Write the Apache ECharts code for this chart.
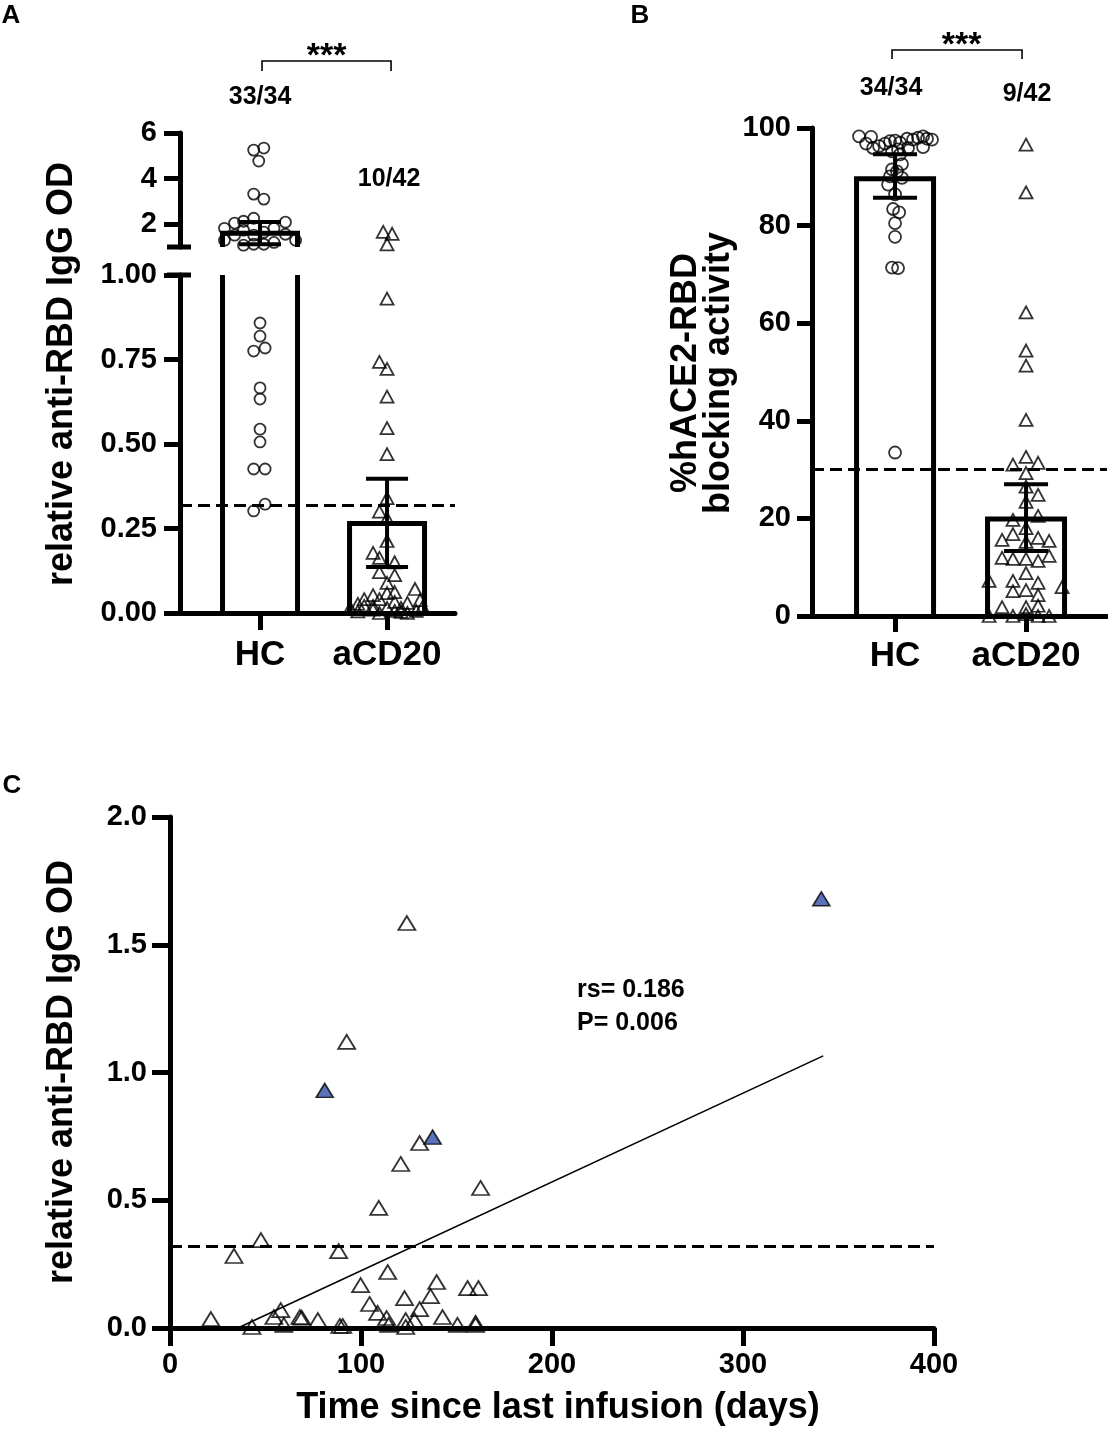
<!DOCTYPE html>
<html>
<head>
<meta charset="utf-8">
<script src="https://cdn.jsdelivr.net/npm/echarts@6/dist/echarts.min.js"></script>
<style>
  html, body { margin: 0; padding: 0; background: #fff; }
  #main { width: 1108px; height: 1432px; }
</style>
</head>
<body>
<div id="main"></div>
<script>
"use strict";

// ---- values ----
const groups = ['HC', 'aCD20'];

// panel A: relative anti-RBD IgG OD (axis broken at 1)
const hcOdA = [5.25, 5.34, 4.77, 3.32, 3.10, 2.05, 2.13, 2.26, 2.09, 1.82, 1.74, 1.82, 1.65, 1.52, 1.52, 1.56,
    1.30, 1.08, 1.12, 1.12, 1.20, 1.30,
    0.858, 0.819, 0.784, 0.775, 0.666, 0.633, 0.544, 0.506, 0.426, 0.426, 0.322, 0.302];
// horizontal spread of each dot inside its column (in column units)
const hcOdSpread = [-0.05, 0.03, -0.01, -0.05, 0.03, -0.2, -0.13, -0.05, 0.2, -0.28, -0.13, 0.11, 0.03, -0.05, -0.2, 0.2,
    -0.28, -0.13, -0.05, 0.03, 0.11, 0.28,
    0, 0, 0.04, -0.05, 0, 0, 0, 0, -0.05, 0.04, 0.04, -0.05];
const cd20OdA = [1.66, 1.58, 1.12, 0.93, 0.743, 0.722, 0.64, 0.547, 0.47, 0.34, 0.30, 0.28, 0.213, 0.178,
    0.163, 0.15, 0.121, 0.112, 0.089, 0.071, 0.062, 0.059, 0.053, 0.041, 0.041, 0.038, 0.033, 0.030,
    0.027, 0.021, 0.021, 0.018, 0.015, 0.015, 0.015, 0.010, 0.006, 0.006, 0.005, 0.003, 0, 0];
const cd20OdSpread = [-0.03, 0.04, 0, 0, -0.06, 0, 0, 0, 0, 0, -0.06, 0, 0, -0.11,
    -0.06, 0.06, -0.06, 0.06, 0, 0.22, 0.06, 0, -0.11, -0.18, -0.06, 0.26, 0.06, 0.16,
    -0.23, -0.18, -0.11, 0.28, -0.29, 0, 0.11, -0.11, 0.06, 0.23, -0.23, 0.11, -0.06, 0.16];
const barA = [1.60, 0.265];
const errLowA = [1.12, 0.136];
const errHighA = [2.10, 0.397];
const cutoffA = 0.322;
const breakA = 1;
const upperTicksA = [2, 4, 6];
const ratioA = ['33/34', '10/42'];

// panel B: %hACE2-RBD blocking activity
const hcBlock = [98.3, 98.2, 96.8, 95.9, 96.3, 96.8, 97.3, 97.4, 97.0, 97.8, 97.6, 98.0, 98.3, 97.8, 97.6, 96.1,
    95.9, 95.6, 95.2, 92.6, 91.5, 91.1, 90.1, 89.8, 88.4, 86.4, 83.4, 82.7, 80.5, 77.7, 71.4, 71.3, 33.5, 94.6];
const hcBlockSpread = [-0.275, -0.183, -0.221, -0.168, -0.122, -0.076, -0.038, 0, 0.038, 0.092, 0.137, 0.176, 0.214, 0.244, 0.282, 0.214,
    0.099, 0.023, -0.023, 0.053, -0.023, 0.015, -0.038, 0.053, -0.053, 0, -0.015, 0.031, 0, 0, -0.023, 0.023, 0, 0.038];
const cd20Block = [96.6, 86.8, 62.2, 54.4, 51.3, 40.2, 32.6, 31.0, 31.4, 29.3, 26.5, 24.8, 23.4, 19.7, 20.5, 18.0,
    16.8, 15.6, 15.2, 16.0, 15.4, 11.9, 11.7, 11.7, 11.3, 12.3, 8.8, 7.2, 7.2, 6.8, 5.9, 5.1, 5.3, 4.3,
    1.8, 1.8, 2.1, 0, 0, 0.4, 0, 0];
const cd20BlockSpread = [0, 0, 0, 0, 0, 0, 0, -0.1, 0.092, 0, 0, 0.092, 0, -0.1, 0.092, 0,
    -0.1, -0.183, 0, 0.092, 0.176, -0.183, -0.1, 0, 0.092, 0.176, 0, -0.282, -0.1, 0.092, 0.275, -0.1, 0, 0.092,
    -0.183, 0, 0.092, -0.282, -0.1, 0, 0.092, 0.176];
const barB = [89.6, 19.9];
const errLowB = [85.7, 13.3];
const errHighB = [94.6, 27.0];
const cutoffB = 30;
const ratioB = ['34/34', '9/42'];

// panel C: OD vs time since last infusion
const daysOpen = [124, 92.5, 130.7, 120.8, 162.6, 109.3, 47.6, 33.5, 88.3, 114, 99.8, 139.6, 155.8, 161.5, 122.8, 136.4,
    104.5, 130.7, 108.7, 58, 54.4, 21.4, 68, 69, 77.4, 142.7, 113.4, 123.4, 42.9, 59.6, 88.9, 90.4,
    114.5, 123.4, 128, 150.5, 160, 160];
const odOpen = [1.585, 1.12, 0.724, 0.642, 0.548, 0.47, 0.344, 0.282, 0.301, 0.219, 0.168, 0.18, 0.156, 0.156, 0.117, 0.125,
    0.094, 0.074, 0.059, 0.07, 0.043, 0.035, 0.043, 0.04, 0.031, 0.043, 0.039, 0.031, 0.004, 0.012, 0.008, 0.008,
    0.012, 0.004, 0.031, 0.012, 0.012, 0.02];
const daysFilled = [81, 137.5, 341];
const odFilled = [0.93, 0.747, 1.68];
const fitLine = [[35.5, 0], [342, 1.065]];
const cutoffC = 0.322;
const statsC = ['rs= 0.186', 'P= 0.006'];

// ---- helpers ----
const FONT = 'Liberation Sans';

const points = (values, spread, col) => values.map((v, i) => [col + spread[i], v]);

// bar outline without the edge that falls outside the grid (for the broken axis)
function openBar(half) {
    return function (params, api) {
        const cs = params.coordSys;
        const top = api.coord([api.value(0), api.value(1)]);
        const base = api.coord([api.value(0), 0]);
        const yMin = cs.y, yMax = cs.y + cs.height;
        if (top[1] >= yMax) return null;
        const yBase = Math.min(base[1], yMax);
        const l = top[0] - half, r = top[0] + half;
        const style = { stroke: '#000', lineWidth: 5, fill: null, lineJoin: 'miter' };
        if (top[1] >= yMin) {
            return { type: 'polyline', shape: { points: [[l, yBase], [l, top[1]], [r, top[1]], [r, yBase]] }, style: style };
        }
        return {
            type: 'group', children: [
                { type: 'line', shape: { x1: l, y1: yMin, x2: l, y2: yBase }, style: style },
                { type: 'line', shape: { x1: r, y1: yMin, x2: r, y2: yBase }, style: style }
            ]
        };
    };
}

function errorBar(half) {
    return function (params, api) {
        const cs = params.coordSys;
        const lo = api.coord([api.value(0), api.value(1)]);
        const hi = api.coord([api.value(0), api.value(2)]);
        const yMin = cs.y, yMax = cs.y + cs.height;
        const y1 = Math.min(lo[1], yMax), y2 = Math.max(hi[1], yMin);
        if (y1 <= y2) return null;
        const x = lo[0];
        const style = { stroke: '#000', lineWidth: 4 };
        const children = [{ type: 'line', shape: { x1: x, y1: y1, x2: x, y2: y2 }, style: style }];
        [lo[1], hi[1]].forEach(y => {
            if (y >= yMin && y <= yMax) {
                children.push({ type: 'line', shape: { x1: x - half, y1: y, x2: x + half, y2: y }, style: style });
            }
        });
        return { type: 'group', children: children };
    };
}

function cutoffLine(value) {
    return {
        silent: true,
        symbol: ['none', 'none'],
        label: { show: false },
        lineStyle: { color: '#000', width: 3.2, type: [12, 6] },
        data: [{ yAxis: value }]
    };
}

const axisText = { color: '#000', fontFamily: FONT, fontWeight: 'bold', fontSize: 29 };
const axisLine = { show: true, lineStyle: { color: '#000', width: 5 } };
const axisTick = len => ({ show: true, length: len, lineStyle: { color: '#000', width: 5 } });

const openMark = { color: 'rgba(0,0,0,0)', borderColor: '#000', borderWidth: 1.8 };

const chart = echarts.init(document.getElementById('main'), null, { renderer: 'canvas' });

const option = {
    backgroundColor: '#fff',
    animation: false,
    grid: [
        { left: 180, top: 133, width: 275, height: 114, outerBoundsMode: 'none' },
        { left: 180, top: 275, width: 275, height: 338, outerBoundsMode: 'none' },
        { left: 812, top: 128, width: 295, height: 488, outerBoundsMode: 'none' },
        { left: 170, top: 817, width: 764, height: 511, outerBoundsMode: 'none' }
    ],
    xAxis: [
        { gridIndex: 0, type: 'value', min: 0.37, max: 2.535, show: false },
        {
            gridIndex: 1, type: 'value', min: 0.37, max: 2.535,
            axisLine: axisLine, splitLine: { show: false },
            axisTick: Object.assign(axisTick(17), { customValues: [1, 2] }),
            axisLabel: Object.assign({}, axisText, {
                fontSize: 35, margin: 25, customValues: [1, 2],
                formatter: v => groups[Math.round(v) - 1]
            })
        },
        {
            gridIndex: 2, type: 'value', min: 0.366, max: 2.618,
            axisLine: axisLine, splitLine: { show: false },
            axisTick: Object.assign(axisTick(16), { customValues: [1, 2] }),
            axisLabel: Object.assign({}, axisText, {
                fontSize: 35, margin: 23, customValues: [1, 2],
                formatter: v => groups[Math.round(v) - 1]
            })
        },
        {
            gridIndex: 3, type: 'value', min: 0, max: 400, interval: 100,
            axisLine: axisLine, splitLine: { show: false },
            axisTick: axisTick(18),
            axisLabel: Object.assign({}, axisText, { margin: 22 })
        }
    ],
    yAxis: [
        {
            gridIndex: 0, type: 'value', min: breakA, max: 6,
            axisLine: axisLine, splitLine: { show: false },
            axisTick: Object.assign(axisTick(16), { customValues: upperTicksA }),
            axisLabel: Object.assign({}, axisText, { margin: 23, customValues: upperTicksA })
        },
        {
            gridIndex: 1, type: 'value', min: 0, max: breakA, interval: 0.25,
            axisLine: axisLine, splitLine: { show: false },
            axisTick: axisTick(16),
            axisLabel: Object.assign({}, axisText, { margin: 23, formatter: v => v.toFixed(2) })
        },
        {
            gridIndex: 2, type: 'value', min: 0, max: 100, interval: 20,
            axisLine: axisLine, splitLine: { show: false },
            axisTick: axisTick(15),
            axisLabel: Object.assign({}, axisText, { margin: 21 })
        },
        {
            gridIndex: 3, type: 'value', min: 0, max: 2, interval: 0.5,
            axisLine: axisLine, splitLine: { show: false },
            axisTick: axisTick(18),
            axisLabel: Object.assign({}, axisText, { margin: 23, formatter: v => v.toFixed(1) })
        }
    ],
    series: [
        // ---- panel A, upper segment ----
        {
            type: 'custom', xAxisIndex: 0, yAxisIndex: 0, silent: true,
            renderItem: openBar(37.5), data: barA.map((v, i) => [i + 1, v])
        },
        {
            type: 'custom', xAxisIndex: 0, yAxisIndex: 0, silent: true, z: 3,
            renderItem: errorBar(21), data: barA.map((v, i) => [i + 1, errLowA[i], errHighA[i]])
        },
        {
            type: 'scatter', xAxisIndex: 0, yAxisIndex: 0, silent: true, z: 4,
            symbol: 'circle', symbolSize: 11, itemStyle: openMark,
            data: points(hcOdA, hcOdSpread, 1).filter(p => p[1] > breakA)
        },
        {
            type: 'scatter', xAxisIndex: 0, yAxisIndex: 0, silent: true, z: 4,
            symbol: 'triangle', symbolSize: [13, 12], itemStyle: openMark,
            data: points(cd20OdA, cd20OdSpread, 2).filter(p => p[1] > breakA)
        },
        // ---- panel A, lower segment ----
        {
            type: 'custom', xAxisIndex: 1, yAxisIndex: 1, silent: true,
            renderItem: openBar(37.5), data: barA.map((v, i) => [i + 1, v])
        },
        {
            type: 'custom', xAxisIndex: 1, yAxisIndex: 1, silent: true, z: 3,
            renderItem: errorBar(21), data: barA.map((v, i) => [i + 1, errLowA[i], errHighA[i]])
        },
        {
            type: 'scatter', xAxisIndex: 1, yAxisIndex: 1, silent: true, z: 4,
            symbol: 'circle', symbolSize: 11, itemStyle: openMark,
            data: points(hcOdA, hcOdSpread, 1).filter(p => p[1] <= breakA)
        },
        {
            type: 'scatter', xAxisIndex: 1, yAxisIndex: 1, silent: true, z: 4,
            symbol: 'triangle', symbolSize: [13, 12], itemStyle: openMark,
            data: points(cd20OdA, cd20OdSpread, 2).filter(p => p[1] <= breakA),
            markLine: cutoffLine(cutoffA)
        },
        // ---- panel B ----
        {
            type: 'custom', xAxisIndex: 2, yAxisIndex: 2, silent: true,
            renderItem: openBar(38.5), data: barB.map((v, i) => [i + 1, v])
        },
        {
            type: 'custom', xAxisIndex: 2, yAxisIndex: 2, silent: true, z: 3,
            renderItem: errorBar(22), data: barB.map((v, i) => [i + 1, errLowB[i], errHighB[i]])
        },
        {
            type: 'scatter', xAxisIndex: 2, yAxisIndex: 2, silent: true, z: 4,
            symbol: 'circle', symbolSize: 12, itemStyle: openMark,
            data: points(hcBlock, hcBlockSpread, 1)
        },
        {
            type: 'scatter', xAxisIndex: 2, yAxisIndex: 2, silent: true, z: 4,
            symbol: 'triangle', symbolSize: [13, 12], itemStyle: openMark,
            data: points(cd20Block, cd20BlockSpread, 2),
            markLine: cutoffLine(cutoffB)
        },
        // ---- panel C ----
        {
            type: 'line', xAxisIndex: 3, yAxisIndex: 3, silent: true,
            symbol: 'none', lineStyle: { color: '#000', width: 1.6 },
            data: fitLine,
            markLine: cutoffLine(cutoffC)
        },
        {
            type: 'scatter', xAxisIndex: 3, yAxisIndex: 3, silent: true, z: 4,
            symbol: 'triangle', symbolSize: [17, 14],
            itemStyle: { color: 'rgba(255,255,255,0)', borderColor: '#000', borderWidth: 1.8 },
            data: daysOpen.map((d, i) => [d, odOpen[i]])
        },
        {
            type: 'scatter', xAxisIndex: 3, yAxisIndex: 3, silent: true, z: 5,
            symbol: 'triangle', symbolSize: [17, 14],
            itemStyle: { color: '#2f4fa6', borderColor: '#000', borderWidth: 1.6 },
            data: daysFilled.map((d, i) => [d, odFilled[i]])
        }
    ]
};

chart.setOption(option);

// ---- annotations: panel letters, titles, counts, brackets, axis break ----
const at = (grid, pt) => chart.convertToPixel({ gridIndex: grid }, pt);

const text = (str, x, y, size, align, extra) => Object.assign({
    type: 'text', x: x, y: y, silent: true,
    style: {
        text: str, fill: '#000', fontFamily: FONT, fontWeight: 'bold', fontSize: size,
        align: align || 'center', verticalAlign: 'middle'
    }
}, extra || {});

const vertical = { rotation: Math.PI / 2 };

const hcA = at(1, [1, 0])[0], cdA = at(1, [2, 0])[0];
const hcB = at(2, [1, 0])[0], cdB = at(2, [2, 0])[0];
const axA = at(1, [0.37, breakA]);
const axAu = at(0, [0.37, breakA]);

const bracket = (x1, x2, y, drop) => ({
    type: 'polyline', silent: true,
    shape: { points: [[x1, y + drop], [x1, y], [x2, y], [x2, y + drop]] },
    style: { stroke: '#000', lineWidth: 1.6, fill: null }
});

const breakCap = p => ({
    type: 'line', silent: true,
    shape: { x1: p[0] - 13, y1: p[1], x2: p[0] + 11, y2: p[1] },
    style: { stroke: '#000', lineWidth: 5 }
});

chart.setOption({
    graphic: [
        text('A', 11, 16, 26),
        text('B', 640, 16, 26),
        text('C', 12, 786, 26),

        text('relative anti-RBD IgG OD', 62, 374, 36, 'center', vertical),
        text('%hACE2-RBD', 686, 373, 36, 'center', vertical),
        text('blocking activity', 719, 373, 36, 'center', vertical),
        text('relative anti-RBD IgG OD', 62, 1072, 36, 'center', vertical),
        text('Time since last infusion (days)', 558, 1408, 36),

        text(ratioA[0], hcA, 97, 25),
        text(ratioA[1], cdA + 2, 179, 25),
        text('***', (hcA + cdA) / 2 + 3, 57, 34),
        bracket(hcA + 2, cdA + 4, 61, 10),

        text(ratioB[0], hcB - 4, 88, 25),
        text(ratioB[1], cdB + 1, 94, 25),
        text('***', (hcB + cdB) / 2 + 1, 46, 34),
        bracket(hcB - 3, cdB - 4, 50, 9),

        text(statsC[0], 577, 990, 25, 'left'),
        text(statsC[1], 577, 1023, 25, 'left'),

        breakCap(axAu),
        breakCap(axA)
    ]
});
</script>
</body>
</html>
